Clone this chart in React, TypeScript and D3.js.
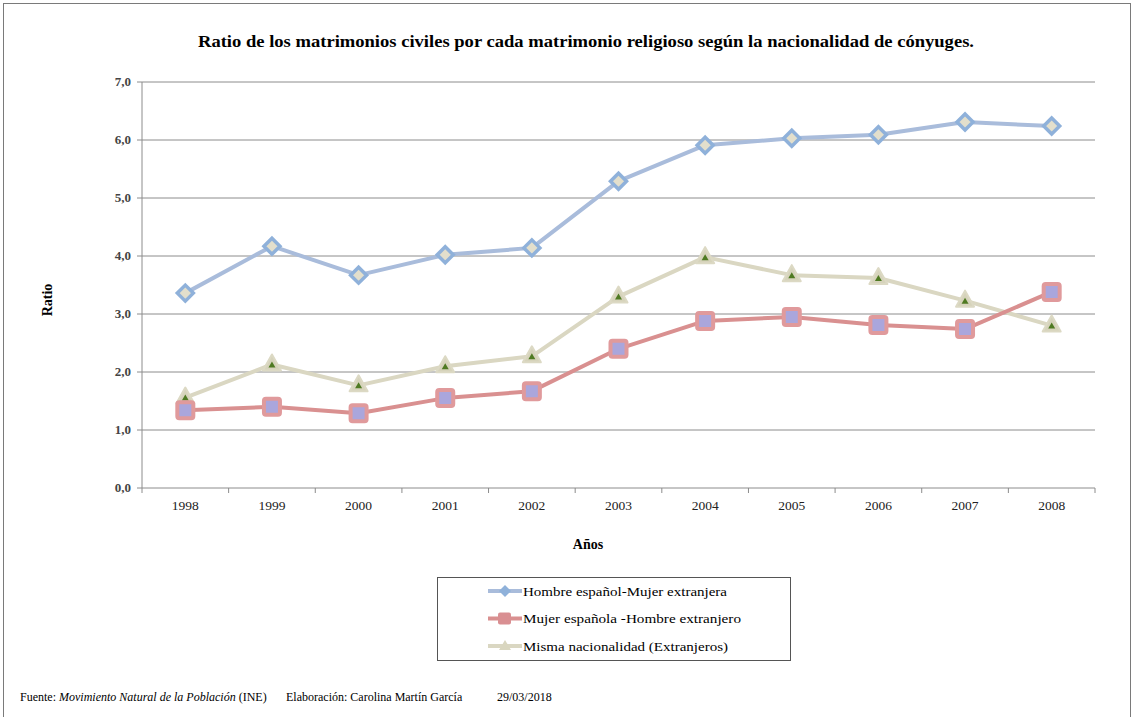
import React from "react";
import * as d3 from "d3";

const years = ["1998","1999","2000","2001","2002","2003","2004","2005","2006","2007","2008"];
const hombreEspanol = [3.36,4.17,3.67,4.02,4.14,5.29,5.91,6.03,6.09,6.31,6.24];
const mujerEspanola = [1.34,1.40,1.29,1.55,1.67,2.40,2.88,2.95,2.81,2.74,3.38];
const mismaNacionalidad = [1.56,2.13,1.77,2.10,2.27,3.30,3.98,3.67,3.62,3.23,2.80];
const yTicks = [0,1,2,3,4,5,6,7];
const seriesNames = ["Hombre español-Mujer extranjera","Mujer española -Hombre extranjero","Misma nacionalidad (Extranjeros)"];

const W = 1132, H = 717;
const serif = "Liberation Serif";

export default function App() {
  const x = d3.scaleBand<string>().domain(years).range([142, 1095]);
  const y = d3.scaleLinear().domain([0, 7]).range([488, 82]);
  const cx = (i: number) => (x(years[i]) as number) + x.bandwidth() / 2;
  const line = (vals: number[]) =>
    d3.line<number>().x((_, i) => cx(i)).y((v) => y(v))(vals) as string;

  const blue = "#a9bcdb", blueMk = "#8fb1da", red = "#d99090", redMk = "#e09a9c", beige = "#dad7c2";

  const diamond = (px: number, py: number, k: string) => (
    <path key={k} d={`M${px},${py - 8}L${px + 8},${py}L${px},${py + 8}L${px - 8},${py}Z`} fill="#e3dfcc" stroke={blueMk} strokeWidth={3.5} />
  );
  const square = (px: number, py: number, k: string) => (
    <rect key={k} x={px - 8} y={py - 8} width={16} height={16} rx={2} fill="#aaa6dc" stroke={redMk} strokeWidth={4} />
  );
  const triangle = (px: number, py: number, k: string) => (
    <g key={k}>
      <path d={`M${px},${py - 10}L${px + 9},${py + 6}L${px - 9},${py + 6}Z`} fill="#d6d3bb" stroke="#dcd9c4" strokeWidth={2} strokeLinejoin="round" />
      <path d={`M${px},${py - 3}L${px + 3.5},${py + 3}L${px - 3.5},${py + 3}Z`} fill="#4f7a22" />
    </g>
  );

  return (
    <svg width={W} height={H} fontFamily={serif} style={{ position: "absolute", left: 0, top: 0, background: "#fff" }}>
      <rect x={3.5} y={3.5} width={W - 5} height={H - 3} fill="#fff" stroke="#7a7a7a" strokeWidth={1} />
      <text x={198} y={47} fontWeight="bold" fontSize={17} textLength={776} lengthAdjust="spacingAndGlyphs">
        Ratio de los matrimonios civiles por cada matrimonio religioso según la nacionalidad de cónyuges.
      </text>

      {yTicks.map((t) => (
        <g key={t}>
          {t > 0 && <line x1={142} x2={1095} y1={y(t)} y2={y(t)} stroke="#8c8c8c" strokeWidth={1} />}
          <line x1={137} x2={142} y1={y(t)} y2={y(t)} stroke="#8c8c8c" />
          <text x={131} y={y(t) + 4} textAnchor="end" fill="#444" fontWeight="bold" fontSize={13}>
            {t.toFixed(1).replace(".", ",")}
          </text>
        </g>
      ))}
      <line x1={142} x2={142} y1={82} y2={488} stroke="#8c8c8c" />
      <line x1={142} x2={1095} y1={488} y2={488} stroke="#8c8c8c" />
      {years.map((yr, i) => (
        <g key={yr}>
          <line x1={x(yr) as number} x2={x(yr) as number} y1={488} y2={493} stroke="#8c8c8c" />
          <text x={cx(i)} y={510} textAnchor="middle" fill="#222" fontSize={13.5}>{yr}</text>
        </g>
      ))}
      <line x1={1095} x2={1095} y1={488} y2={493} stroke="#8c8c8c" />

      <text x={588} y={549} textAnchor="middle" fontWeight="bold" fontSize={14}>Años</text>
      <text transform="translate(52,300) rotate(-90)" textAnchor="middle" fontWeight="bold" fontSize={14}>Ratio</text>

      <path d={line(hombreEspanol)} fill="none" stroke={blue} strokeWidth={4} strokeLinejoin="round" />
      <path d={line(mismaNacionalidad)} fill="none" stroke={beige} strokeWidth={4} strokeLinejoin="round" />
      <path d={line(mujerEspanola)} fill="none" stroke={red} strokeWidth={4} strokeLinejoin="round" />
      {hombreEspanol.map((v, i) => diamond(cx(i), y(v), "d" + i))}
      {mismaNacionalidad.map((v, i) => triangle(cx(i), y(v), "t" + i))}
      {mujerEspanola.map((v, i) => square(cx(i), y(v), "s" + i))}

      <rect x={437.5} y={577.5} width={353} height={83} fill="#fff" stroke="#555" strokeWidth={1} />
      {seriesNames.map((n, i) => {
        const ly = 591 + i * 27.5;
        const col = [blue, red, beige][i];
        const mk = ["#8fb1da", "#d98f92", "#d9d6bf"][i];
        const tl = [204, 218, 205][i];
        return (
          <g key={n}>
            <line x1={488} x2={522} y1={ly} y2={ly} stroke={col} strokeWidth={4} />
            {i === 0 && <path d={`M505,${ly - 6}L511,${ly}L505,${ly + 6}L499,${ly}Z`} fill={mk} />}
            {i === 1 && <rect x={498} y={ly - 6} width={13} height={12} rx={2} fill={mk} />}
            {i === 2 && <path d={`M505,${ly - 6}L511,${ly + 4}L499,${ly + 4}Z`} fill={mk} />}
            <text x={523} y={ly + 4.5} fontSize={13} textLength={tl} lengthAdjust="spacingAndGlyphs">{n}</text>
          </g>
        );
      })}

      <text x={20} y={701} fontSize={12}>
        Fuente: <tspan fontStyle="italic">Movimiento Natural de la Población</tspan> (INE)
      </text>
      <text x={286} y={701} fontSize={12}>Elaboración: Carolina Martín García</text>
      <text x={497} y={701} fontSize={12}>29/03/2018</text>
    </svg>
  );
}
